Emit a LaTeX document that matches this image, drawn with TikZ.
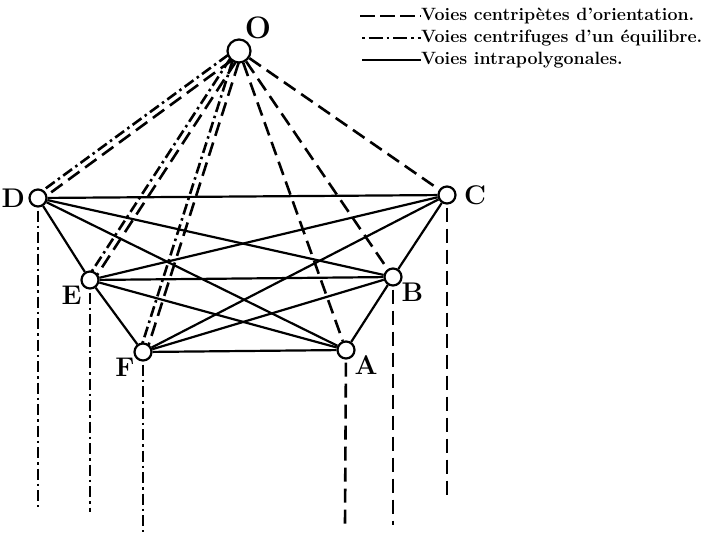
\documentclass[tikz,border=0pt]{standalone}
\usepackage{tikz}
\usetikzlibrary{calc}

\begin{document}
\begin{tikzpicture}[x=1pt, y=-1pt,
    point/.style={draw, circle, fill=white, line width=2.2pt, inner sep=0pt, minimum size=17pt},
    centre/.style={point, minimum size=23pt},
    lbl/.style={font=\fontsize{27}{29}\selectfont\bfseries},
    centripete/.style={line width=2.6pt, dash pattern=on 14pt off 7pt},
    centrifuge/.style={line width=2.6pt, dash pattern=on 11pt off 4pt on 2.5pt off 4pt},
    intra/.style={line width=2.2pt},
    legtext/.style={font=\fontsize{17.8}{20}\selectfont\bfseries, anchor=west, inner sep=0pt}]

    \useasboundingbox (0,0) rectangle (711,532);

    % les sept centres
    \node[centre, label={[lbl, font=\fontsize{31}{33}\selectfont\bfseries, label distance=-4pt]75:O}] (O) at (239,51) {};
    \node[point, label={[lbl, label distance=0pt]left:D}] (D) at (38,198) {};
    \node[point, label={[lbl, label distance=4pt]right:C}] (C) at (447,195) {};
    \node[point, label={[lbl, label distance=-4pt]210:E}] (E) at (90,280) {};
    \node[point, label={[lbl, label distance=-4pt]-25:B}] (B) at (393,277) {};
    \node[point, label={[lbl, label distance=-4pt]208:F}] (F) at (143,352) {};
    \node[point, label={[lbl, label distance=-4pt]-25:A}] (A) at (346,350) {};

    % voies intrapolygonales
    \foreach \a/\b in {D/E, E/F, F/A, A/B, B/C, C/D, D/B, D/A, E/C, E/B, E/A, F/C, F/B}
        \draw[intra] (\a) -- (\b);

    % voies doubles vers D, E, F
    \foreach \p in {D,E,F} {
        \draw[centrifuge, shorten <=11pt, shorten >=8pt]
            ($(O.center)!3.2pt!-90:(\p.center)$) -- ($(\p.center)!3.2pt!90:(O.center)$);
        \draw[centripete, shorten <=11pt, shorten >=8pt]
            ($(O.center)!3.2pt!90:(\p.center)$) -- ($(\p.center)!3.2pt!-90:(O.center)$);
    }
    \foreach \p in {A,B,C}
        \draw[centripete] (O) -- (\p);

    % voies descendantes
    \coordinate (Dbas) at (38,507);
    \coordinate (Ebas) at (90,512);
    \coordinate (Fbas) at (143,532);
    \coordinate (Abas) at (345,525);
    \coordinate (Bbas) at (393,525);
    \coordinate (Cbas) at (447,497);
    \foreach \p in {D,E,F}
        \draw[centrifuge, shorten <=3pt] (\p) -- (\p bas);
    \foreach \p in {A,B,C}
        \draw[centripete, shorten <=3pt] (\p) -- (\p bas);

    % legende
    \node[legtext] (t1) at (421,16) {Voies centripètes d'orientation.};
    \node[legtext] (t2) at (421,38) {Voies centrifuges d'un équilibre.};
    \node[legtext] (t3) at (421,60) {Voies intrapolygonales.};
    \coordinate (k1) at (360,16);
    \coordinate (k2) at (362,38);
    \coordinate (k3) at (362,60);
    \draw[line width=2.4pt, dash pattern=on 15pt off 5pt] (k1) -- (t1.west);
    \draw[line width=2.4pt, dash pattern=on 2.5pt off 4pt on 14pt off 4pt] (k2) -- (t2.west);
    \draw[line width=2.4pt] (k3) -- (t3.west);
\end{tikzpicture}
\end{document}
